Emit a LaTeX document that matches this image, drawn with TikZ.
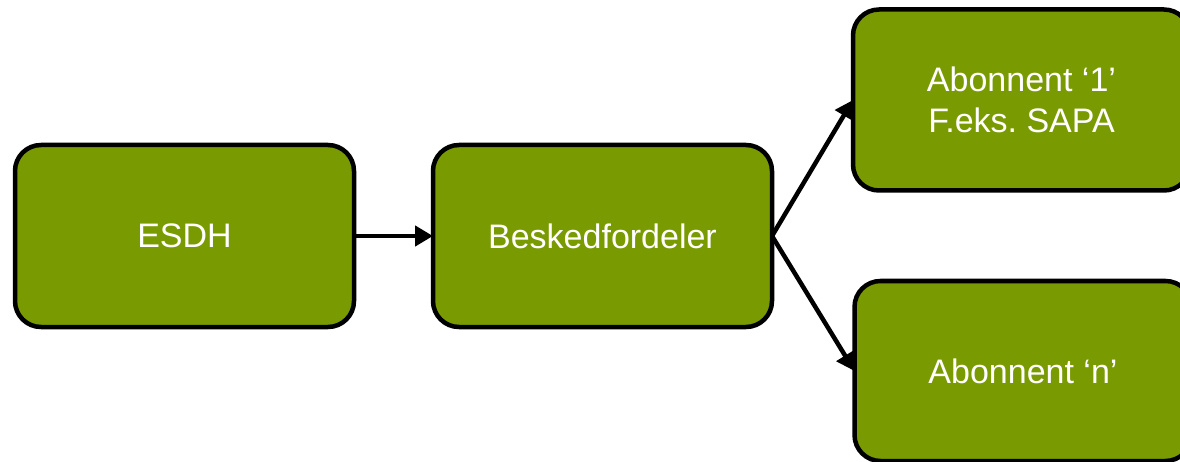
\documentclass[tikz,border=0pt]{standalone}
\usepackage{fontspec}
\setmainfont{Liberation Sans}
\usetikzlibrary{arrows.meta}
\definecolor{olive}{RGB}{122,154,1}
\frenchspacing
\tikzset{
  box/.style={draw=black, line width=4.5pt, fill=olive, rounded corners=26pt,
    minimum width=339pt, minimum height=182pt, inner sep=0pt, outer sep=0pt,
    text=white, font=\fontsize{34pt}{41pt}\selectfont, align=center},
  conn/.style={line width=4.5pt, -{Triangle[length=18pt,width=20pt]}, shorten >=0pt}
}
\begin{document}
\begin{tikzpicture}[x=1pt,y=-1pt]
\useasboundingbox (0,0) rectangle (1180,462);
\clip (0,0) rectangle (1180,462);
\node[box] (esdh) at (184.5,236) {ESDH};
\node[box] (besk) at (602.5,236) {Beskedfordeler};
\node[box, minimum width=337pt, minimum height=181pt] (ab1) at (1021.5,100) {Abonnent ‘1’\\F.eks. SAPA};
\node[box, minimum width=337pt, minimum height=180pt] (abn) at (1023,371) {Abonnent ‘n’};
\draw[conn] (esdh.east) -- (besk.west);
\draw[conn] (besk.east) -- (ab1.west);
\draw[conn] (besk.east) -- (abn.west);
\end{tikzpicture}
\end{document}
